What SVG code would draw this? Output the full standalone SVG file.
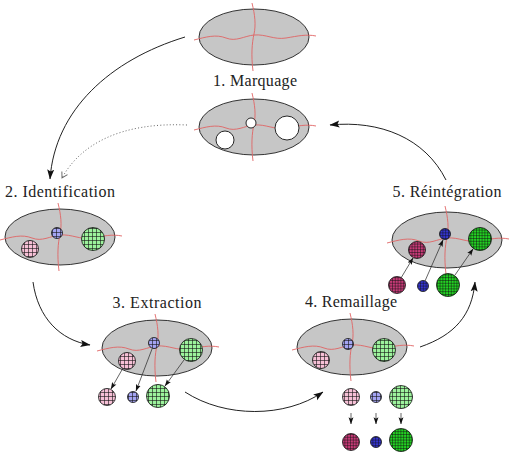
<svg xmlns="http://www.w3.org/2000/svg" xmlns:xlink="http://www.w3.org/1999/xlink" width="513" height="454" viewBox="0 0 513 454">
<style>
.ell{fill:#c6c6c6;stroke:#1e1e1e;stroke-width:0.9}
.red{fill:none;stroke:#e06464;stroke-width:0.9}
.circ{stroke:#111;stroke-width:0.8}
.hole{fill:#fff;stroke:#111;stroke-width:0.9}
.lbl{font-family:"Liberation Serif","DejaVu Serif",serif;font-size:16px;fill:#222;text-anchor:middle}
.con{fill:none;stroke:#222;stroke-width:1}
.dot{fill:none;stroke:#666;stroke-width:1;stroke-dasharray:1 2.2}
.sm{fill:none;stroke:#222;stroke-width:0.7}
</style>
<defs>
<marker id="ah" markerUnits="userSpaceOnUse" markerWidth="10" markerHeight="8" viewBox="0 0 10 7" refX="9.5" refY="3.5" orient="auto">
<path d="M0,0 L10,3.5 L0,7 L2,3.5 z" fill="#111"/>
</marker>
<marker id="ahs" markerUnits="userSpaceOnUse" markerWidth="7" markerHeight="6" viewBox="0 0 10 7" refX="9.5" refY="3.5" orient="auto">
<path d="M0,0 L10,3.5 L0,7 L2,3.5 z" fill="#111"/>
</marker>
<marker id="aho" markerUnits="userSpaceOnUse" markerWidth="8" markerHeight="8" viewBox="0 0 10 10" refX="9" refY="5" orient="auto">
<path d="M2,1 L9,5 L2,9" fill="none" stroke="#666" stroke-width="1.2"/>
</marker>
<pattern id="pL" patternUnits="userSpaceOnUse" width="4" height="4">
<rect width="4" height="4" fill="#f6c0d6"/><path d="M0,0.35H4M0.35,0V4" stroke="#111" stroke-width="0.7"/>
</pattern>
<pattern id="bL" patternUnits="userSpaceOnUse" width="4" height="4">
<rect width="4" height="4" fill="#a4a4f2"/><path d="M0,0.35H4M0.35,0V4" stroke="#111" stroke-width="0.7"/>
</pattern>
<pattern id="gL" patternUnits="userSpaceOnUse" width="4" height="4">
<rect width="4" height="4" fill="#9cf29c"/><path d="M0,0.35H4M0.35,0V4" stroke="#111" stroke-width="0.7"/>
</pattern>
<pattern id="pD" patternUnits="userSpaceOnUse" width="2.8" height="2.8">
<rect width="2.8" height="2.8" fill="#c83a78"/><path d="M0,0.3H2.8M0.3,0V2.8" stroke="#111" stroke-width="0.6"/>
</pattern>
<pattern id="bD" patternUnits="userSpaceOnUse" width="2.8" height="2.8">
<rect width="2.8" height="2.8" fill="#3434d0"/><path d="M0,0.3H2.8M0.3,0V2.8" stroke="#111" stroke-width="0.6"/>
</pattern>
<pattern id="gD" patternUnits="userSpaceOnUse" width="2.8" height="2.8">
<rect width="2.8" height="2.8" fill="#22d222"/><path d="M0,0.3H2.8M0.3,0V2.8" stroke="#111" stroke-width="0.6"/>
</pattern>
<g id="mesh">
<ellipse class="ell" cx="0" cy="0" rx="55" ry="28"/>
<path class="red" d="M-60,3 C-48,0 -38,-3 -28,1 C-18,5 -10,-1 0,-2 C12,-3 20,3 32,1 C44,-1 52,-3 62,-1"/>
<path class="red" d="M-2,-34 C1,-22 2,-12 0,-3 C-2,6 -3,18 -1,34"/>
</g>
</defs>

<g id="initial">
<use xlink:href="#mesh" href="#mesh" x="254" y="37"/>
</g>

<g id="marquage">
<use xlink:href="#mesh" href="#mesh" x="254" y="127"/>
<circle class="hole" cx="251" cy="123" r="5"/>
<circle class="hole" cx="225" cy="140" r="9"/>
<circle class="hole" cx="287" cy="128" r="12"/>
<text class="lbl" x="255" y="86" textLength="84" lengthAdjust="spacing">1. Marquage</text>
</g>

<g id="identification">
<text class="lbl" x="60" y="197" textLength="110" lengthAdjust="spacing">2. Identification</text>
<use xlink:href="#mesh" href="#mesh" x="60" y="237"/>
<circle class="circ" cx="57" cy="233" r="5.5" fill="url(#bL)"/>
<circle class="circ" cx="30" cy="249" r="8.5" fill="url(#pL)"/>
<circle class="circ" cx="93" cy="239" r="11.5" fill="url(#gL)"/>
</g>

<g id="extraction">
<text class="lbl" x="157" y="308" textLength="89" lengthAdjust="spacing">3. Extraction</text>
<use xlink:href="#mesh" href="#mesh" x="157" y="348"/>
<circle class="circ" cx="127" cy="361" r="8.5" fill="url(#pL)"/>
<circle class="circ" cx="154" cy="343" r="5.5" fill="url(#bL)"/>
<circle class="circ" cx="191" cy="350" r="11.5" fill="url(#gL)"/>
<circle class="circ" cx="107" cy="397" r="8.5" fill="url(#pL)"/>
<circle class="circ" cx="133" cy="397" r="5.5" fill="url(#bL)"/>
<circle class="circ" cx="158" cy="396" r="11.5" fill="url(#gL)"/>
<path class="sm" d="M123,368 L111,389" marker-end="url(#ahs)"/>
<path class="sm" d="M152,349 L136,391" marker-end="url(#ahs)"/>
<path class="sm" d="M184,360 L165,386" marker-end="url(#ahs)"/>
</g>

<g id="remaillage">
<text class="lbl" x="351" y="307" textLength="92" lengthAdjust="spacing">4. Remaillage</text>
<use xlink:href="#mesh" href="#mesh" x="352" y="347"/>
<circle class="circ" cx="321" cy="360" r="8.5" fill="url(#pL)"/>
<circle class="circ" cx="348" cy="344" r="5.5" fill="url(#bL)"/>
<circle class="circ" cx="384" cy="350" r="11.5" fill="url(#gL)"/>
<circle class="circ" cx="351" cy="397" r="8.5" fill="url(#pL)"/>
<circle class="circ" cx="376" cy="397" r="5.5" fill="url(#bL)"/>
<circle class="circ" cx="401" cy="397" r="11.5" fill="url(#gL)"/>
<path class="sm" d="M351,413 L351,424" marker-end="url(#ahs)"/>
<path class="sm" d="M376,413 L376,424" marker-end="url(#ahs)"/>
<path class="sm" d="M401,413 L401,424" marker-end="url(#ahs)"/>
<circle class="circ" cx="351" cy="442" r="8.5" fill="url(#pD)"/>
<circle class="circ" cx="376" cy="442" r="5.5" fill="url(#bD)"/>
<circle class="circ" cx="401" cy="440" r="11.5" fill="url(#gD)"/>
</g>

<g id="reintegration">
<text class="lbl" x="447" y="197" textLength="109" lengthAdjust="spacing">5. Réintégration</text>
<use xlink:href="#mesh" href="#mesh" x="447" y="240"/>
<circle class="circ" cx="417" cy="250" r="8.5" fill="url(#pD)"/>
<circle class="circ" cx="445" cy="234" r="5.5" fill="url(#bD)"/>
<circle class="circ" cx="480" cy="239" r="11.5" fill="url(#gD)"/>
<circle class="circ" cx="397" cy="285" r="8.5" fill="url(#pD)"/>
<circle class="circ" cx="423" cy="286" r="5.5" fill="url(#bD)"/>
<circle class="circ" cx="448" cy="285" r="11.5" fill="url(#gD)"/>
<path class="sm" d="M401,278 L413,258" marker-end="url(#ahs)"/>
<path class="sm" d="M425,281 L443,240" marker-end="url(#ahs)"/>
<path class="sm" d="M455,275 L473,249" marker-end="url(#ahs)"/>
</g>

<g id="connectors">
<path class="con" d="M185,37 C110,60 55,110 50,179" marker-end="url(#ah)"/>
<path class="dot" d="M187,125 C120,122 80,145 62,178" marker-end="url(#aho)"/>
<path class="con" d="M33,282 C38,318 60,340 90,345" marker-end="url(#ah)"/>
<path class="con" d="M185,392 C225,418 285,418 323,392" marker-end="url(#ah)"/>
<path class="con" d="M420,347 C455,335 472,315 475,282" marker-end="url(#ah)"/>
<path class="con" d="M446,180 C425,138 380,120 330,125" marker-end="url(#ah)"/>
</g>
</svg>
